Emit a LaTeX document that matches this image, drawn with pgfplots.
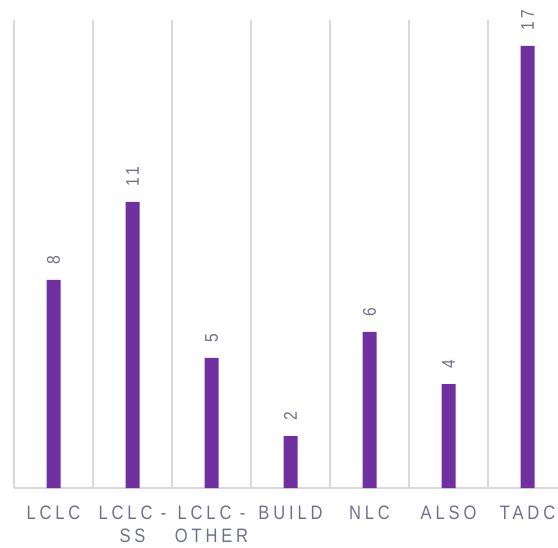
\documentclass[border=0pt]{standalone}
\usepackage{pgfplots}
\pgfplotsset{compat=1.18}
\usepackage{fontspec}
\setmainfont{Liberation Sans}
\newfontfamily\lblfont[LetterSpace=20,FakeStretch=0.85]{Liberation Sans}
\definecolor{barpurple}{HTML}{7030A0}
\definecolor{txtgray}{RGB}{112,112,140}
\definecolor{gridgray}{RGB}{217,217,217}
\begin{document}
\begin{tikzpicture}
\path[use as bounding box] (-14bp,-60bp) rectangle (544bp,488bp);
\begin{axis}[
  at={(0,0)}, anchor=south west,
  scale only axis,
  width=544bp, height=468bp,
  xmin=-0.5, xmax=6.386,
  ymin=0, ymax=18,
  clip=false,
  ybar, bar width=14bp,
  axis x line=bottom,
  axis y line=none,
  x axis line style={gridgray, line width=1.2bp, -},
  xtick={0,1,2,3,4,5,6},
  xticklabels={LCLC, {LCLC -\\SS}, {LCLC -\\OTHER}, BUILD, NLC, ALSO, TADC},
  xtick style={draw=none},
  minor xtick={-0.5,0.5,1.5,2.5,3.5,4.5,5.5},
  xminorgrids=true,
  minor grid style={gridgray, line width=1.2bp},
  minor tick style={draw=none},
  x tick label style={font=\fontsize{19.5}{23}\selectfont\lblfont, text=txtgray, align=center, anchor=north, yshift=-12bp},
  nodes near coords,
  nodes near coords style={rotate=90, anchor=west, font=\fontsize{18.5}{22}\selectfont\lblfont, text=txtgray, inner xsep=15bp},
  point meta=explicit symbolic,
]
\addplot[fill=barpurple, draw=none] coordinates {
  (0,8) [8] (1,11) [11] (2,5) [5] (3,2) [2] (4,6) [6] (5,4) [4] (6,17) [17]
};
\end{axis}
\end{tikzpicture}
\end{document}
